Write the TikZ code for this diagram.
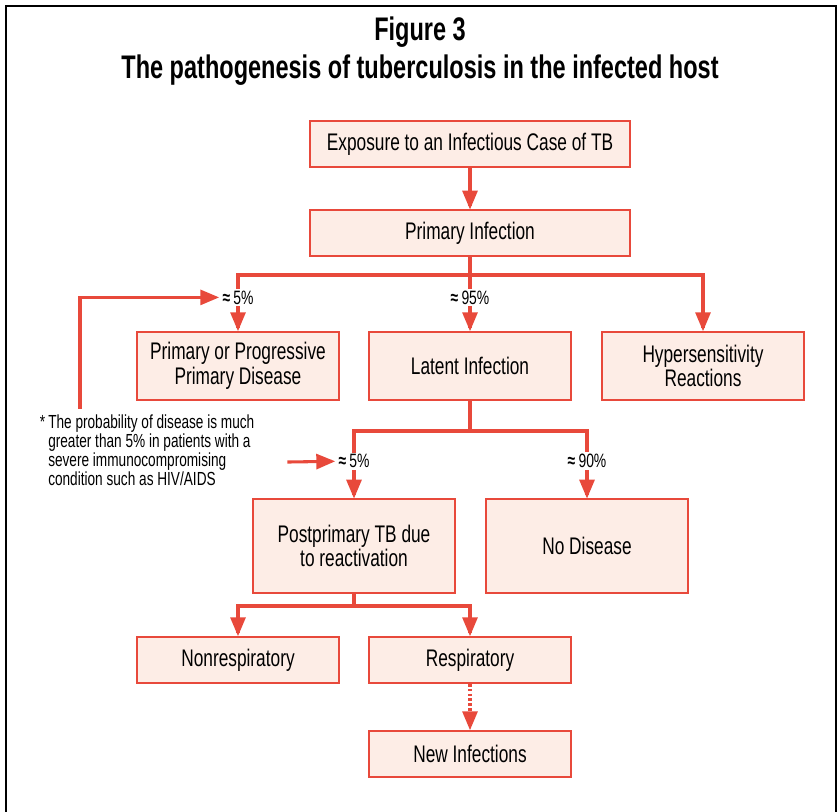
\documentclass[tikz,border=0pt]{standalone}
\usepackage{fontspec}
\setmainfont{Liberation Sans}[FakeStretch=0.72]
\usetikzlibrary{arrows}
\definecolor{tbred}{HTML}{E8493B}
\definecolor{tbpink}{HTML}{FDEDE6}

\begin{document}
\begin{tikzpicture}[x=0.75pt,y=-0.75pt,
  box/.style={draw=tbred, fill=tbpink, line width=1.5pt, align=center,
    inner sep=0pt, font=\fontsize{18}{18.5}\selectfont},
  link/.style={tbred, line width=2.3pt, line cap=rect, >=triangle 45},
  pct/.style={fill=white, text=black, inner sep=1.5pt, font=\fontsize{14.5}{16}\selectfont}]
\useasboundingbox (0,0) rectangle (837,812);
\draw[line width=1.6pt] (6,812) -- (6,6) -- (836,6) -- (836,812);
% title
\node[font=\bfseries\fontsize{24.5}{28}\selectfont] (fig) at (420,32) {Figure 3};
\node[font=\bfseries\fontsize{24.5}{28}\selectfont] (ttl) at (420,70)
  {The pathogenesis of tuberculosis in the infected host};
% boxes
\node[box, minimum width=240pt, minimum height=34pt] (expo) at (470,144) {Exposure to an Infectious Case of TB};
\node[box, minimum width=240pt, minimum height=34pt] (prim) at (470,233) {Primary Infection};
\node[box, minimum width=151.5pt, minimum height=51pt] (ppd) at (238,366) {Primary or Progressive\\Primary Disease};
\node[box, minimum width=151.5pt, minimum height=51pt] (latent) at (470,366) {Latent Infection};
\node[box, minimum width=151.5pt, minimum height=51pt] (hyper) at (703,366) {Hypersensitivity\\Reactions};
\node[box, minimum width=151pt, minimum height=70pt] (post) at (354,546) {Postprimary TB due\\to reactivation};
\node[box, minimum width=151pt, minimum height=70pt] (nodis) at (587,546) {No Disease};
\node[box, minimum width=151.5pt, minimum height=34.5pt] (nonresp) at (238,660) {Nonrespiratory};
\node[box, minimum width=151.5pt, minimum height=34.5pt] (resp) at (470,660) {Respiratory};
\node[box, minimum width=151.5pt, minimum height=34.5pt] (newinf) at (470,754) {New Infections};
% footnote
\node[anchor=north west, align=left, inner sep=0pt,
  font=\fontsize{14.2}{14.2}\selectfont] (note) at (48,415)
  {\llap{*\,}The probability of disease is much\\greater than 5\% in patients with a\\
   severe immunocompromising\\condition such as HIV/AIDS};
% junctions
\coordinate (bj1) at (470,275);
\coordinate (bj2) at (470,431);
\coordinate (bj3) at (354,606);
\coordinate (fa) at (80,407);
\coordinate (fb) at (289,462);
% connectors
\draw[link,->] (expo) -- (prim);
\draw[link] (prim) -- (bj1);
\draw[link] (ppd.north |- bj1) -- (hyper.north |- bj1);
\draw[link,->] (ppd.north |- bj1) -- node[pct, pos=0.4] (p1) {{\bfseries ≈}\,5\%} (ppd);
\draw[link,->] (latent.north |- bj1) -- node[pct, pos=0.4] (p2) {{\bfseries ≈}\,95\%} (latent);
\draw[link,->] (hyper.north |- bj1) -- (hyper);
\draw[link] (latent) -- (bj2);
\draw[link] (post.north |- bj2) -- (nodis.north |- bj2);
\draw[link,->] (post.north |- bj2) -- node[pct, pos=0.45] (p3) {{\bfseries ≈}\,5\%} (post);
\draw[link,->] (nodis.north |- bj2) -- node[pct, pos=0.45] (p4) {{\bfseries ≈}\,90\%} (nodis);
\draw[link] (post) -- (bj3);
\draw[link] (nonresp.north |- bj3) -- (resp.north |- bj3);
\draw[link,->] (nonresp.north |- bj3) -- (nonresp);
\draw[link,->] (resp.north |- bj3) -- (resp);
\draw[link,->, line cap=butt, dash pattern=on 2pt off 1.6pt] (resp) -- (newinf);
% footnote arrows
\draw[link,->] (fa) |- (p1.west);
\draw[link,->] (fb) -- (p3.west);
\end{tikzpicture}
\end{document}
